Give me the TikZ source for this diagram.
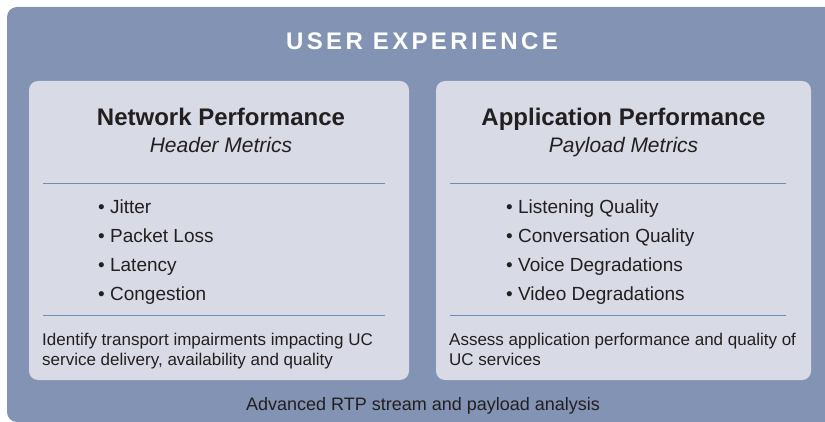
\documentclass[tikz,border=0pt]{standalone}
\usepackage{fontspec}
\setmainfont{Liberation Sans}
\newfontfamily\trackedfont[LetterSpace=14]{Liberation Sans}
\definecolor{slateblue}{HTML}{8293B3}
\definecolor{panelgrey}{HTML}{D8DAE5}
\definecolor{rulecolor}{HTML}{6E8BBA}
\definecolor{ink}{HTML}{231F20}
\begin{document}
\begin{tikzpicture}[x=1pt,y=-1pt,
  panel/.style={fill=panelgrey, rounded corners=9pt},
  heading/.style={font=\fontsize{24}{28}\selectfont\bfseries, text=ink, inner sep=0pt, anchor=base},
  subheading/.style={font=\fontsize{21}{25}\selectfont\itshape, text=ink, inner sep=0pt, anchor=base},
  item/.style={font=\fontsize{19}{23}\selectfont, text=ink, inner sep=0pt, anchor=base west},
  note/.style={font=\fontsize{17}{20}\selectfont, text=ink, inner sep=0pt, anchor=base west},
  divider/.style={draw=rulecolor, line width=1pt}]
  \useasboundingbox (0,0) rectangle (825,422);
  \clip (0,0) rectangle (825,422);

  % outer frame
  \fill[slateblue, rounded corners=10pt] (7,7) rectangle (845,422);
  \node[font=\trackedfont\fontsize{24}{28}\selectfont\bfseries, text=white, inner sep=0pt, anchor=base]
    (title) at (422,50) {USER EXPERIENCE};

  % left panel: network performance
  \fill[panel] (29,81) rectangle (409,380);
  \node[heading] (nethead) at (221,126) {Network Performance};
  \node[subheading] (netsub) at (221,153) {Header Metrics};
  \draw[divider] (43,183.5) -- (385,183.5);
  \node[item] (jitter) at (98,214) {• Jitter};
  \node[item] (loss) at (98,243) {• Packet Loss};
  \node[item] (latency) at (98,272) {• Latency};
  \node[item] (congestion) at (98,300.5) {• Congestion};
  \draw[divider] (43,315.5) -- (385,315.5);
  \node[note] (netnote1) at (42,345.5) {Identify transport impairments impacting UC};
  \node[note] (netnote2) at (42,365.5) {service delivery, availability and quality};

  % right panel: application performance
  \fill[panel] (436,81) rectangle (811,380);
  \node[heading] (apphead) at (623.5,126) {Application Performance};
  \node[subheading] (appsub) at (623.5,153) {Payload Metrics};
  \draw[divider] (450,184) -- (786,184);
  \node[item] (listening) at (506,214) {• Listening Quality};
  \node[item] (conversation) at (506,243) {• Conversation Quality};
  \node[item] (voice) at (506,272) {• Voice Degradations};
  \node[item] (video) at (506,300.5) {• Video Degradations};
  \draw[divider] (450,315.5) -- (786,315.5);
  \node[note] (appnote1) at (449,345.5) {Assess application performance and quality of};
  \node[note] (appnote2) at (449,365.5) {UC services};

  % footer
  \node[font=\fontsize{18}{22}\selectfont, text=ink, inner sep=0pt, anchor=base]
    (footer) at (423,410.5) {Advanced RTP stream and payload analysis};
\end{tikzpicture}
\end{document}
